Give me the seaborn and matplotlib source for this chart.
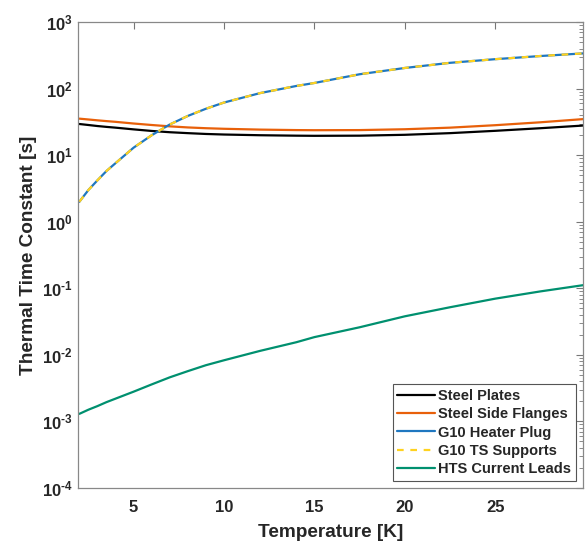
import numpy as np
import pandas as pd
import matplotlib
matplotlib.use("Agg")
import matplotlib.pyplot as plt
import seaborn as sns
from matplotlib.ticker import LogLocator, NullFormatter, FixedLocator, FuncFormatter

# Data
temp = [2, 2.5, 3, 3.5, 4, 5, 6, 7, 8, 9, 10, 12, 14, 15, 17.5, 20, 22.5, 25, 27.5, 29.9]
steel_plates = [29.5, 28.5, 27.5, 26.7, 26.0, 24.5, 23.2, 22.2, 21.5, 20.9, 20.5, 20.0, 19.7, 19.6, 19.7, 20.3, 21.5, 23.3, 25.5, 28.0]
steel_flanges = [35.5, 34.5, 33.5, 32.6, 31.8, 30.0, 28.5, 27.2, 26.2, 25.5, 25.0, 24.3, 23.9, 23.8, 23.9, 24.6, 26.0, 28.3, 31.3, 35.0]
g10_heater = [2.0, 3.0, 4.2, 5.8, 7.6, 13.0, 20.0, 29.0, 39.0, 50.0, 62.0, 86.0, 110.0, 122.0, 165.0, 205.0, 245.0, 278.0, 310.0, 340.0]
g10_supports = list(g10_heater)
hts_leads = [0.0013, 0.0015, 0.0017, 0.00195, 0.0022, 0.0028, 0.0036, 0.0046, 0.0057, 0.0070, 0.0083, 0.0115, 0.0155, 0.0185, 0.026, 0.038, 0.052, 0.070, 0.090, 0.112]

series_names = ["Steel Plates", "Steel Side Flanges", "G10 Heater Plug", "G10 TS Supports", "HTS Current Leads"]
series_values = [steel_plates, steel_flanges, g10_heater, g10_supports, hts_leads]
colors = ["#000000", "#E8600A", "#1F77C0", "#FFD21F", "#00906F"]
dashes = {"Steel Plates": "", "Steel Side Flanges": "", "G10 Heater Plug": "",
          "G10 TS Supports": (3, 3), "HTS Current Leads": ""}

df = pd.concat([pd.DataFrame({"Temperature": temp, "Tau": v, "Series": n})
                for n, v in zip(series_names, series_values)], ignore_index=True)

sns.set_theme(style="white")
plt.rcParams["font.family"] = ["Liberation Sans", "DejaVu Sans"]
plt.rcParams["font.weight"] = "bold"
plt.rcParams["mathtext.fontset"] = "custom"
plt.rcParams["mathtext.rm"] = "Liberation Sans:bold"
plt.rcParams["mathtext.bf"] = "Liberation Sans:bold"
plt.rcParams["mathtext.it"] = "Liberation Sans:bold"
plt.rcParams["mathtext.default"] = "bf"

fig = plt.figure(figsize=(5.87, 5.41), dpi=100)
ax = fig.add_axes([0.133, 0.098, 0.860, 0.861])

sns.lineplot(data=df, x="Temperature", y="Tau", hue="Series", style="Series",
             palette=dict(zip(series_names, colors)), dashes=dashes,
             hue_order=series_names, style_order=series_names,
             linewidth=1.6, ax=ax, legend=True)


def exp_fmt(v, p):
    k = int(round(np.log10(v)))
    s = str(abs(k))
    if k < 0:
        s = "\u2010" + s
    return r"$\mathbf{10^{%s}}$" % s


ax.set_yscale("log")
ax.set_xlim(1.93, 29.85)
ax.set_ylim(1e-4, 1e3)
ax.set_xticks([5, 10, 15, 20, 25])
ax.yaxis.set_major_locator(FixedLocator([10.0**k for k in range(-4, 4)]))
ax.yaxis.set_major_formatter(FuncFormatter(exp_fmt))
ax.yaxis.set_minor_locator(LogLocator(base=10, subs=np.arange(2, 10), numticks=20))
ax.yaxis.set_minor_formatter(NullFormatter())

ax.set_xlabel("Temperature [K]", fontsize=13.7, fontweight="bold", labelpad=6)
ax.set_ylabel("Thermal Time Constant [s]", fontsize=13.7, fontweight="bold", labelpad=3)
for lbl in ax.get_xticklabels() + ax.get_yticklabels():
    lbl.set_fontweight("bold")
    lbl.set_fontsize(12)

ax.tick_params(which="both", direction="in", top=True, right=True, color="#777777")
ax.tick_params(which="major", length=5, width=0.8)
ax.tick_params(which="minor", length=3, width=0.6)
ax.tick_params(axis="both", labelcolor="#262626")
ax.tick_params(axis="x", pad=9)
ax.tick_params(axis="y", pad=4)
for s in ax.spines.values():
    s.set_color("#888888")
    s.set_linewidth(0.9)

handles, labels = ax.get_legend_handles_labels()
leg = ax.legend(handles, labels, loc="lower right", frameon=True,
                fancybox=False, edgecolor="#555555", framealpha=1,
                borderaxespad=0.5, handlelength=2.6, handletextpad=0.2,
                labelspacing=0.3, borderpad=0.3, prop={"weight": "bold", "size": 10.5})
leg.get_frame().set_linewidth(0.8)

fig.savefig("out.png", dpi=100)
